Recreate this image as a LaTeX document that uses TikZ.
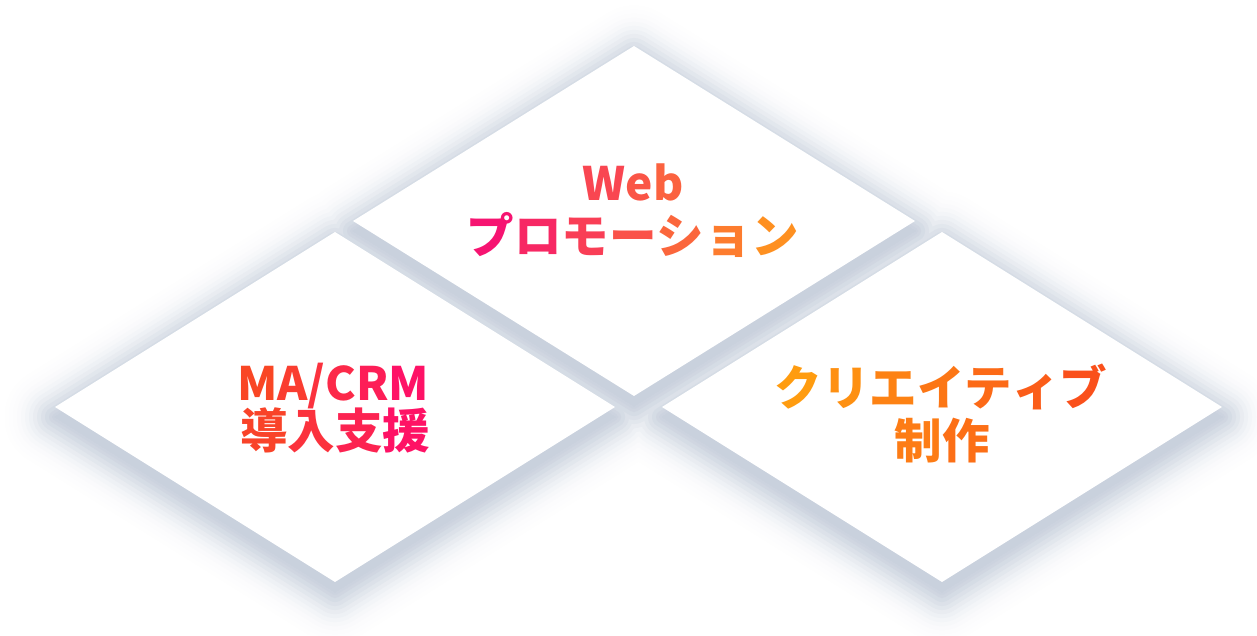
\documentclass[tikz,border=0pt]{standalone}
\usepackage{fontspec}
\setmainfont{Noto Sans CJK JP}
\definecolor{tA}{HTML}{F50A78}
\definecolor{tB}{HTML}{FF9A1A}
\definecolor{lA}{HTML}{F84B1E}
\definecolor{lB}{HTML}{FF0A70}
\definecolor{rA}{HTML}{FFA20F}
\definecolor{rB}{HTML}{FA4A1C}
\definecolor{shc}{HTML}{C9D1DD}
\newcommand\gset[2]{\def\ga{#1}\def\gb{#2}}
\newcommand\gc[2]{\textcolor{\ga!#1!\gb}{#2}}
\newcommand\shrhomb[4]{%
  \filldraw[cur,line width=2*\dd pt,line join=round] ({#1-#3},{#2+10}) -- (#1,{#2+10-#4}) -- ({#1+#3},{#2+10}) -- (#1,{#2+10+#4}) -- cycle;}
\tikzset{
  lbl/.style={anchor=base, inner sep=0pt, font=\bfseries\fontsize{46}{46}\selectfont},
  jlbl/.style={anchor=base, inner sep=0pt, font=\bfseries\fontsize{47.5}{47.5}\selectfont},
  tile/.style={fill=white}
}
\begin{document}
\begin{tikzpicture}[x=1pt,y=-1pt]
\useasboundingbox (0,0) rectangle (1257,635);
\fill[white] (0,0) rectangle (1257,635);
% shadows
\foreach \dd/\pp in {50/2,46/4,42/6,38/10,34/15,30/22,26/31,22/41,18/53,14/65,10/77,6/88,3/95,0.01/100}{
  \colorlet{cur}{shc!\pp!white}
  \shrhomb{634}{221}{281}{175}
  \shrhomb{335}{407}{280}{175}
  \shrhomb{942}{407}{280}{175}
}
% tiles
\fill[tile] (353,221) -- (634,46) -- (915,221) -- (634,396) -- cycle;
\fill[tile] (55,407) -- (335,232) -- (615,407) -- (335,582) -- cycle;
\fill[tile] (662,407) -- (942,232) -- (1222,407) -- (942,582) -- cycle;
% labels
\node[lbl] (t1) at (633,200) {\gset{tA}{tB}\gc{58}{W}\gc{48}{e}\gc{39}{b}};
\node[jlbl] (t2) at (633,253) {\gset{tA}{tB}\gc{93}{プ}\gc{79}{ロ}\gc{64}{モ}\gc{50}{ー}\gc{36}{シ}\gc{21}{ョ}\gc{7}{ン}};
\node[lbl] (l1) at (333,400) {\gset{lA}{lB}\gc{92}{M}\gc{78}{A}\gc{61}{/}\gc{48}{C}\gc{30}{R}\gc{12}{M}};
\node[jlbl] (l2) at (335,448) {\gset{lA}{lB}\gc{87}{導}\gc{62}{入}\gc{38}{支}\gc{13}{援}};
\node[jlbl] (r1) at (941,405) {\gset{rA}{rB}\gc{93}{ク}\gc{79}{リ}\gc{64}{エ}\gc{50}{イ}\gc{36}{テ}\gc{21}{ィ}\gc{7}{ブ}};
\node[jlbl] (r2) at (942,458) {\gset{rA}{rB}\gc{57}{制}\gc{42}{作}};
\end{tikzpicture}
\end{document}
